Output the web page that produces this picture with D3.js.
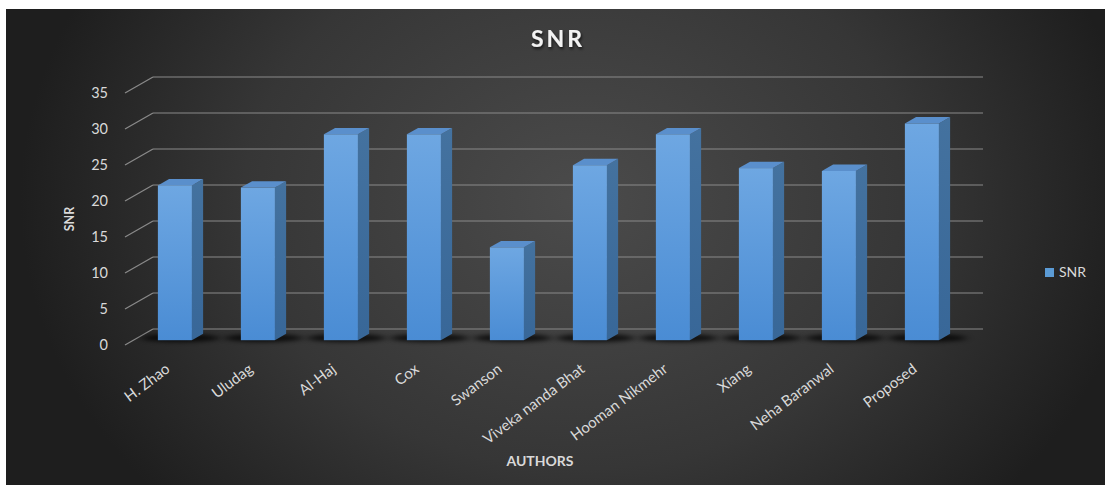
<!DOCTYPE html>
<html>
<head>
<meta charset="utf-8">
<script src="https://cdn.jsdelivr.net/npm/d3@7"></script>
<style>
  body { margin: 0; background: #fff; }
  svg { display: block; }
  text { font-family: Lato, "Open Sans", sans-serif; }
</style>
</head>
<body>
<div id="chart"></div>
<script>
// data
const authors = ["H. Zhao", "Uludag", "Al-Haj", "Cox", "Swanson", "Viveka nanda Bhat",
                 "Hooman Nikmehr", "Xiang", "Neha Baranwal", "Proposed"];
const snr = [21.5, 21.2, 28.6, 28.6, 12.9, 24.3, 28.6, 23.9, 23.5, 30.1];
const yTicks = [0, 5, 10, 15, 20, 25, 30, 35];

const W = 1105, H = 485;
// depth offset of the back wall (3d look)
const DX = 28, DY = 16;
const f0 = 0.3, f1 = 0.7;

const svg = d3.select("#chart").append("svg")
    .attr("width", W)
    .attr("height", H);

const defs = svg.append("defs");

let bg = defs.append("radialGradient")
    .attr("id", "bg")
    .attr("gradientUnits", "userSpaceOnUse")
    .attr("cx", 580).attr("cy", 200).attr("r", 560)
    .attr("gradientTransform", "translate(580,200) scale(1,0.8) translate(-580,-200)");
bg.append("stop").attr("offset", "0%").attr("stop-color", "#4b4b4b");
bg.append("stop").attr("offset", "60%").attr("stop-color", "#363636");
bg.append("stop").attr("offset", "100%").attr("stop-color", "#1e1e1e");

let front = defs.append("linearGradient")
    .attr("id", "front").attr("x1", 0).attr("y1", 0).attr("x2", 0).attr("y2", 1);
front.append("stop").attr("offset", "0%").attr("stop-color", "#6ea7e2");
front.append("stop").attr("offset", "100%").attr("stop-color", "#4a8cd4");

let side = defs.append("linearGradient")
    .attr("id", "side").attr("x1", 0).attr("y1", 0).attr("x2", 0).attr("y2", 1);
side.append("stop").attr("offset", "0%").attr("stop-color", "#44729f");
side.append("stop").attr("offset", "100%").attr("stop-color", "#386798");

defs.append("filter").attr("id", "blur")
    .attr("x", "-50%").attr("y", "-200%").attr("width", "200%").attr("height", "500%")
  .append("feGaussianBlur").attr("stdDeviation", "4 2");

let ts = defs.append("filter").attr("id", "tshadow");
ts.append("feDropShadow").attr("dx", 1).attr("dy", 2).attr("stdDeviation", 1.5)
    .attr("flood-color", "#000").attr("flood-opacity", 0.7);

svg.append("rect")
    .attr("x", 6).attr("y", 9)
    .attr("width", W - 6).attr("height", H - 9)
    .attr("fill", "url(#bg)");

// scales (front floor plane)
var x = d3.scaleBand()
    .domain(authors)
    .range([125, 955]);

var y = d3.scaleLinear()
    .domain([0, 35])
    .range([345, 93]);

const barW = x.bandwidth() * 0.41;

// gridlines: side wall + back wall
let grid = svg.append("g").attr("stroke", "#8a8a8a").attr("stroke-width", 1.2).attr("fill", "none");
grid.selectAll(".side")
    .data(yTicks)
    .enter().append("line")
    .attr("x1", 125).attr("y1", d => y(d))
    .attr("x2", 125 + DX).attr("y2", d => y(d) - DY);
grid.selectAll(".back")
    .data(yTicks)
    .enter().append("line")
    .attr("x1", 125 + DX).attr("y1", d => y(d) - DY)
    .attr("x2", 955 + DX).attr("y2", d => y(d) - DY);

// y tick labels
svg.append("g").selectAll("text")
    .data(yTicks)
    .enter().append("text")
    .attr("x", 108)
    .attr("y", d => y(d) + 5)
    .attr("text-anchor", "end")
    .attr("font-size", "14.5px")
    .attr("fill", "#d9d9d9")
    .text(d => d);

// floor shadows
svg.append("g").selectAll("ellipse")
    .data(authors)
    .enter().append("ellipse")
    .attr("cx", d => x(d) + x.bandwidth() / 2 + DX * 0.5)
    .attr("cy", y(0) - DY * 0.5 + 1)
    .attr("rx", barW * 1.15)
    .attr("ry", 4)
    .attr("fill", "#000")
    .attr("opacity", 0.75)
    .attr("filter", "url(#blur)");

// bars
let bars = svg.append("g").selectAll("g")
    .data(authors.map((a, i) => ({ a: a, v: snr[i] })))
    .enter().append("g");

function xl(d) { return x(d.a) + (x.bandwidth() - barW) / 2; }

bars.append("polygon")
    .attr("fill", "url(#side)")
    .attr("points", function(d) {
      let r = xl(d) + barW;
      return [[r + DX * f0, y(d.v) - DY * f0], [r + DX * f1, y(d.v) - DY * f1],
              [r + DX * f1, y(0) - DY * f1], [r + DX * f0, y(0) - DY * f0]].join(" ");
    });

bars.append("polygon")
    .attr("fill", "#5a8fcc")
    .attr("points", function(d) {
      let l = xl(d), r = l + barW, t = y(d.v);
      return [[l + DX * f0, t - DY * f0], [r + DX * f0, t - DY * f0],
              [r + DX * f1, t - DY * f1], [l + DX * f1, t - DY * f1]].join(" ");
    });

bars.append("rect")
    .attr("x", d => xl(d) + DX * f0)
    .attr("y", d => y(d.v) - DY * f0)
    .attr("width", barW)
    .attr("height", d => y(0) - y(d.v))
    .attr("fill", "url(#front)");

// x labels
svg.append("g").selectAll("text")
    .data(authors)
    .enter().append("text")
    .attr("transform", d => "translate(" + (x(d) + x.bandwidth() / 2 + DX * f0 - 4) + ",371) rotate(-37)")
    .attr("text-anchor", "end")
    .attr("font-family", "'Open Sans', sans-serif")
    .attr("font-size", "15px")
    .attr("fill", "#d9d9d9")
    .text(d => d);

// title
svg.append("text")
    .attr("x", 558)
    .attr("y", 47)
    .attr("text-anchor", "middle")
    .attr("font-size", "23px")
    .attr("font-weight", "bold")
    .attr("letter-spacing", "3px")
    .attr("fill", "#f2f2f2")
    .attr("filter", "url(#tshadow)")
    .text("SNR");

// axis titles
svg.append("text")
    .attr("transform", "translate(74,219) rotate(-90)")
    .attr("text-anchor", "middle")
    .attr("font-size", "12.5px")
    .attr("font-weight", "bold")
    .attr("fill", "#d9d9d9")
    .text("SNR");

svg.append("text")
    .attr("x", 540)
    .attr("y", 466)
    .attr("text-anchor", "middle")
    .attr("font-size", "14px")
    .attr("font-weight", "bold")
    .attr("fill", "#d9d9d9")
    .text("AUTHORS");

// legend
svg.append("rect")
    .attr("x", 1045).attr("y", 268)
    .attr("width", 9).attr("height", 9)
    .attr("fill", "#5b9bd5");
svg.append("text")
    .attr("x", 1059).attr("y", 277)
    .attr("font-size", "14px")
    .attr("fill", "#d9d9d9")
    .text("SNR");
</script>
</body>
</html>
